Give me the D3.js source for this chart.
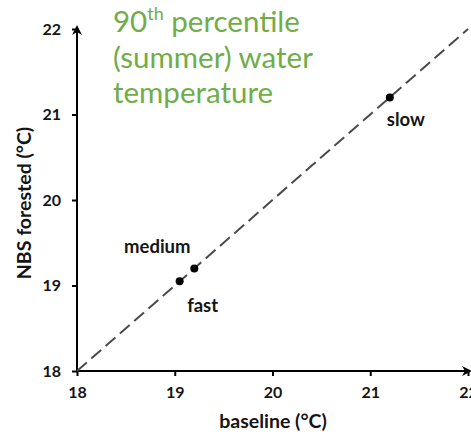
<!DOCTYPE html>
<html>
<head>
<meta charset="utf-8">
<script src="https://cdn.jsdelivr.net/npm/d3@7"></script>
<style>
  html, body { margin: 0; padding: 0; background: #fff; }
  svg { display: block; }
</style>
</head>
<body>
<svg id="chart" width="471" height="434"></svg>
<script>
// Scenario results: baseline vs NBS forested, 90th percentile summer water temperature (°C)
const scenarios = ["fast", "medium", "slow"];
const baselineTemp = [19.05, 19.2, 21.2];
const forestedTemp = [19.05, 19.2, 21.2];
const tickValues = [18, 19, 20, 21, 22];
const oneToOne = [18, 22];

const titleLines = ["90|th| percentile", "(summer) water", "temperature"];

const svg = d3.select("#chart");

const x = d3.scaleLinear().domain([18, 22]).range([77, 468]);
const y = d3.scaleLinear().domain([18, 22]).range([371, 29]);

const font = "Lato, 'Open Sans', sans-serif";
const ink = "#151515";

// arrow head marker
svg.append("defs").append("marker")
  .attr("id", "arrow")
  .attr("viewBox", "0 0 10 10")
  .attr("refX", 8).attr("refY", 5)
  .attr("markerWidth", 5).attr("markerHeight", 5)
  .attr("markerUnits", "strokeWidth")
  .attr("orient", "auto")
  .append("path")
  .attr("d", "M0,0 L10,5 L0,10 L3,5 Z")
  .attr("fill", "#000");

// x axis
const xAxis = svg.append("g")
  .attr("transform", `translate(0,${y(18)})`)
  .call(d3.axisBottom(x).tickValues(tickValues).tickFormat(d3.format("d")).tickSize(5).tickSizeOuter(0));
xAxis.select(".domain").remove();
xAxis.selectAll(".tick line").attr("stroke", "#000").attr("stroke-width", 2);
xAxis.selectAll(".tick text")
  .attr("y", 16)
  .attr("font-family", font).attr("font-weight", "bold").attr("font-size", 16)
  .attr("fill", ink);

// y axis
const yAxis = svg.append("g")
  .attr("transform", `translate(${x(18)},0)`)
  .call(d3.axisLeft(y).tickValues(tickValues).tickFormat(d3.format("d")).tickSize(5).tickSizeOuter(0));
yAxis.select(".domain").remove();
yAxis.selectAll(".tick line").attr("stroke", "#000").attr("stroke-width", 2);
yAxis.selectAll(".tick text")
  .attr("x", -16)
  .attr("font-family", font).attr("font-weight", "bold").attr("font-size", 16)
  .attr("fill", ink);

// axis lines with arrows
svg.append("line")
  .attr("x1", x(18) - 1).attr("y1", y(18))
  .attr("x2", x(22) + 2).attr("y2", y(18))
  .attr("stroke", "#000").attr("stroke-width", 2)
  .attr("marker-end", "url(#arrow)");
svg.append("line")
  .attr("x1", x(18)).attr("y1", y(18) + 1)
  .attr("x2", x(18)).attr("y2", y(22) - 2)
  .attr("stroke", "#000").attr("stroke-width", 2)
  .attr("marker-end", "url(#arrow)");

// 1:1 reference line
svg.append("line")
  .attr("x1", x(oneToOne[0])).attr("y1", y(oneToOne[0]))
  .attr("x2", x(oneToOne[1])).attr("y2", y(oneToOne[1]))
  .attr("stroke", "#4a4a4a").attr("stroke-width", 2)
  .attr("stroke-dasharray", "13,6");

// scenario points
const pts = scenarios.map((s, i) => ({ name: s, bx: baselineTemp[i], fy: forestedTemp[i] }));
svg.append("g").selectAll("circle")
  .data(pts).join("circle")
  .attr("cx", d => x(d.bx)).attr("cy", d => y(d.fy))
  .attr("r", 4).attr("fill", "#000");

// point labels
const labelOffset = { fast: [23, 31], medium: [-37, -15], slow: [16, 29] };
svg.append("g").selectAll("text")
  .data(pts).join("text")
  .attr("x", d => x(d.bx) + labelOffset[d.name][0])
  .attr("y", d => y(d.fy) + labelOffset[d.name][1])
  .attr("text-anchor", "middle")
  .attr("font-family", font).attr("font-weight", "bold").attr("font-size", 18.5)
  .attr("fill", ink)
  .text(d => d.name);

// axis titles
svg.append("text")
  .attr("x", 273).attr("y", 428)
  .attr("text-anchor", "middle")
  .attr("font-family", font).attr("font-weight", "bold").attr("font-size", 19.5)
  .attr("fill", ink)
  .text("baseline (°C)");
svg.append("text")
  .attr("transform", "translate(31,203) rotate(-90)")
  .attr("text-anchor", "middle")
  .attr("font-family", font).attr("font-weight", "bold").attr("font-size", 19.5)
  .attr("fill", ink)
  .text("NBS forested (°C)");

// green title block
const title = svg.append("text")
  .attr("font-family", font)
  .attr("font-size", 29.5)
  .attr("fill", "#70AD47");
const baselines = [32, 68, 103];
titleLines.forEach((line, i) => {
  const parts = line.split("|");
  title.append("tspan").attr("x", 113).attr("y", baselines[i]).text(parts[0]);
  if (parts.length > 1) {
    title.append("tspan").attr("dy", -12).attr("font-size", 18).text(parts[1]);
    title.append("tspan").attr("dy", 12).text(parts[2]);
  }
});
</script>
</body>
</html>
